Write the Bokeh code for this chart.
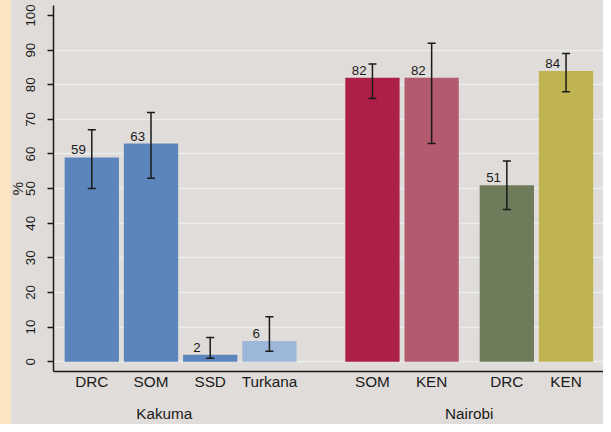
from bokeh.plotting import figure
from bokeh.models import (Range1d, FixedTicker, LinearAxis, ColumnDataSource,
                          Whisker, TeeHead)
from bokeh.core.properties import value
from bokeh.embed import file_html
from bokeh.resources import INLINE

# ---- data ----
groups = ["Kakuma", "Kakuma", "Kakuma", "Kakuma", "Nairobi", "Nairobi", "Nairobi", "Nairobi"]
subgroups = [0, 0, 0, 0, 1, 1, 2, 2]
categories = ["DRC", "SOM", "SSD", "Turkana", "SOM", "KEN", "DRC", "KEN"]
percent = [59, 63, 2, 6, 82, 82, 51, 84]
ci_low = [50, 53, 1, 3, 76, 63, 44, 78]
ci_high = [67, 72, 7, 13, 86, 92, 58, 89]
y_ticks = [0, 10, 20, 30, 40, 50, 60, 70, 80, 90, 100]
group_labels = ["Kakuma", "Nairobi"]

# ---- styles ----
bar_colors = ["#5b85bc", "#5b85bc", "#5b85bc", "#9cb7da",
              "#ae1f48", "#b35a6f", "#6f7c5b", "#c0b450"]
BG = "#e0dcd9"
STRIP = "#fde5c4"
GRID = "#eaeded"
INK = "#1a1a1a"
FONT = "Liberation Sans"

# ---- layout of slots ----
STEP, GROUP_GAP, SUB_GAP = 1.0, 0.74, 0.27
xs = []
pos = -STEP
prev = None
for g, s in zip(groups, subgroups):
    pos += STEP
    if prev is not None:
        if g != prev[0]:
            pos += GROUP_GAP
        elif s != prev[1]:
            pos += SUB_GAP
    xs.append(round(pos, 3))
    prev = (g, s)

group_shift = {"Kakuma": -0.275, "Nairobi": 0.0}
group_x = []
for gl in group_labels:
    members = [x for x, g in zip(xs, groups) if g == gl]
    group_x.append(round((min(members) + max(members)) / 2 + group_shift[gl], 3))

src = ColumnDataSource(dict(
    x=xs, percent=percent, lo=ci_low, hi=ci_high,
    label=[str(v) for v in percent], color=bar_colors, cat=categories))

p = figure(width=603, height=424, output_backend="svg", toolbar_location=None,
           x_range=Range1d(-0.6467, 8.6424), y_range=Range1d(-2.83, 102.89),
           min_border_left=53, min_border_right=0, min_border_top=5,
           min_border_bottom=53, background_fill_color=BG,
           border_fill_color=None, outline_line_color=None,
           styles={"background": "linear-gradient(to right, %s 0px, %s 11px, %s 11px, %s 100%%)"
                   % (STRIP, STRIP, BG, BG)})

# grid
p.xgrid.visible = False
p.ygrid.ticker = FixedTicker(ticks=y_ticks[:-1])
p.ygrid.grid_line_color = GRID
p.ygrid.grid_line_width = 1.5

# bars
p.vbar(x="x", top="percent", bottom=0, width=0.917, fill_color="color",
       line_color=None, source=src)

# error bars
wh = Whisker(base="x", upper="hi", lower="lo", source=src,
             line_color=INK, line_width=1.5,
             upper_head=TeeHead(size=8, line_color=INK, line_width=1.5),
             lower_head=TeeHead(size=8, line_color=INK, line_width=1.5),
             level="overlay")
p.add_layout(wh)

# value labels
p.text(x="x", y="percent", text="label", x_offset=-13.3, y_offset=-3,
       text_align="center", text_baseline="bottom",
       text_font=value(FONT), text_font_size="13.3px", text_color=INK,
       source=src)

# y axis
ya = p.yaxis[0]
ya.ticker = FixedTicker(ticks=y_ticks)
ya.major_label_orientation = "vertical"
ya.major_tick_out = 6
ya.major_tick_in = 0
ya.minor_tick_line_color = None
ya.axis_line_color = INK
ya.axis_line_width = 1.5
ya.major_tick_line_color = INK
ya.major_tick_line_width = 1.5
ya.major_label_standoff = 12
ya.major_label_text_font = FONT
ya.major_label_text_font_size = "13.3px"
ya.major_label_text_color = INK
ya.axis_label = "%"
ya.axis_label_text_font = FONT
ya.axis_label_text_font_size = "15px"
ya.axis_label_text_font_style = "normal"
ya.axis_label_text_color = INK
ya.axis_label_standoff = -2

# x axis (categories)
xa = p.xaxis[0]
xa.ticker = FixedTicker(ticks=xs)
xa.major_label_overrides = {x: c for x, c in zip(xs, categories)}
xa.major_tick_line_color = None
xa.minor_tick_line_color = None
xa.major_tick_out = 0
xa.major_tick_in = 0
xa.axis_line_color = INK
xa.axis_line_width = 1.5
xa.major_label_standoff = 1
xa.major_label_text_font = FONT
xa.major_label_text_font_size = "15.3px"
xa.major_label_text_color = INK

# x axis (groups)
xa2 = LinearAxis(ticker=FixedTicker(ticks=group_x),
                 major_label_overrides={x: g for x, g in zip(group_x, group_labels)},
                 axis_line_color=None, major_tick_line_color=None,
                 minor_tick_line_color=None, major_tick_out=0, major_tick_in=0,
                 major_label_standoff=12, major_label_text_font=FONT,
                 major_label_text_font_size="15.3px", major_label_text_color=INK)
p.add_layout(xa2, "below")

open("out.html", "w").write(file_html(p, INLINE))
